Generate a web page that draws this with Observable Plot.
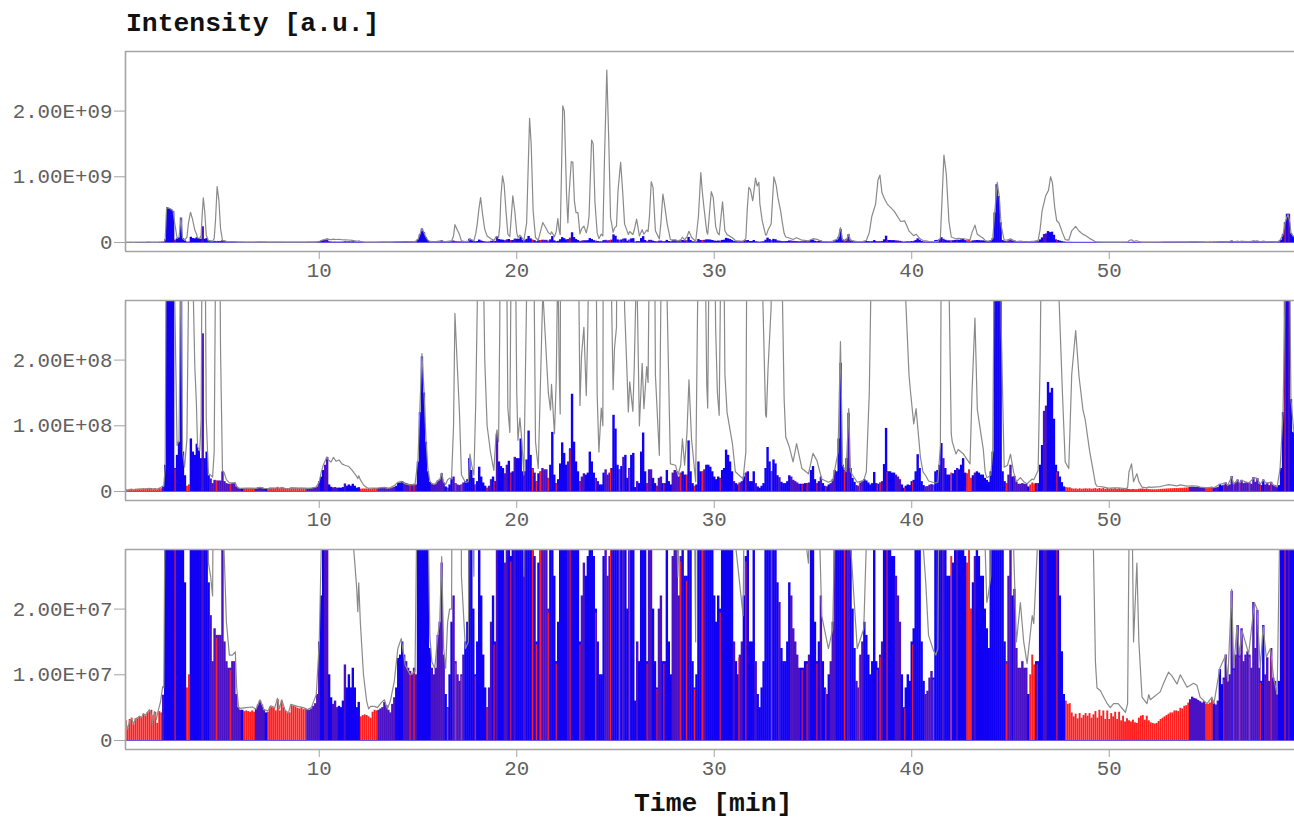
<!DOCTYPE html>
<html><head><meta charset="utf-8">
<script src="https://cdn.jsdelivr.net/npm/d3@7"></script>
<script src="https://cdn.jsdelivr.net/npm/@observablehq/plot@0.6"></script>
<style>
html,body{margin:0;padding:0;background:#fff;overflow:hidden}
#root{position:relative;width:1294px;height:819px}
.lab{position:absolute;font-family:"Liberation Mono",monospace;font-weight:700;font-size:26.4px;line-height:20px;color:#111;white-space:pre}
.panel{position:absolute;left:0}
.panel svg{display:block}
</style></head><body>
<div id="root">
<div class="lab" style="left:126px;top:14px">Intensity [a.u.]</div>
<div class="lab" style="left:634px;top:794px">Time [min]</div>
</div>
<script>
// Intensities are in millions of counts. Row n holds scans n.0, n.1 ... n.9 minutes (row 0 begins at 0.2).
const barRows = [
[3.0,1.8,3.2,3.4,2.4,3.3,3.4,3.6],
[3.5,4.0,3.7,4.2,4.4,4.6,3.8,4.3,2.6,4.4],
[4.2,6.9,40,530,515,500,470,35,55,75],
[370,60,24,8,10,80,60,55,72,62],
[50,240,50,60,24,19,12,17,16,16],
[16,30,15,12,11,11,12,12,7,5],
[4.6,4.6,4.4,4.5,4.4,4.3,4.5,4.3,4.7,5.4],
[6.0,5.4,4.6,4.2,4.3,5.1,5.0,4.9,4.5,6.2],
[4.5,6.0,5.0,4.4,4.1,4.2,5.3,5.2,5.1,4.9],
[4.8,5.0,4.7,4.8,4.7,4.6,4.8,5.2,5.6,7.0],
[15,22,32,40,52,10,6.5,5.5,6,5],
[5.2,5.0,6,11.5,8,10,8,11,8,5],
[5.8,3.6,3.8,3.9,3.8,3.6,3.4,4.3,4.6,4.5],
[4.6,4.8,5.0,5.8,5.3,4.6,4.2,5.5,6.5,8],
[12.5,13,15,13,12,11,10.5,10,11,10],
[45,120,205,150,75,30,14,11,10,11],
[16,18,27,13,7,5,10,18,22,12],
[10,9,10,13,15,18,50,32,20,10],
[15,37,22,13,8,5,8,18,22,15],
[87,45,38,35,27,40,46,28,30,52],
[50,50,80,30,30,48,92,55,35,28],
[15,27,30,35,33,33,20,40,90,25],
[12,18,42,74,58,40,45,65,148,75],
[45,30,15,22,27,25,28,60,45,28],
[20,15,10,10,28,33,25,28,35,116],
[95,40,33,38,52,55,20,35,55,58],
[6,15,12,60,89,30,12,33,33,20],
[12,8,20,22,12,12,32,15,10,28],
[32,30,22,28,30,25,25,77,30,12],
[8,10,45,30,30,33,40,40,37,30],
[22,18,22,20,32,35,63,55,45,30],
[15,12,10,13,15,22,28,30,15,15],
[30,12,7,5,8,12,35,67,45,30],
[48,42,24,21,14,12,12,15,24,22],
[17,15,13,11,11,11,12,12,13,32],
[38,18,12,15,22,12,8,7,10,12],
[18,32,30,80,195,40,32,50,119,35],
[20,14,9,8,13,15,18,16,13,10],
[12,29,12,11,13,15,41,96,30,30],
[28,28,25,22,18,10,5,8,10,9],
[15,17,30,56,35,15,9,7,7.5,9.5],
[10.5,9.5,30,32,40,73,50,35,25,25],
[28,27,32,35,33,40,50,28,27,33],
[20,24,28,30,28,25,25,20,17,14],
[30,60,450,880,700,300,30,15,12,25],
[40,22,23,14,11,11,12,11,11,7],
[10,13,11.5,12,12,40,70,122,130,166],
[150,157,110,40,30,22,13.5,7,6,5.5],
[5.6,4.2,3.6,4.0,3.3,4.1,3.4,3.8,4.1,3.7],
[4.1,3.4,3.9,4.4,3.4,4.6,3.7,4.5,3.2,4.5],
[3.2,4.1,3.6,4.3,3.2,4.3,3.0,3.7,2.8,3.3],
[3.0,2.8,3.1,2.7,2.6,3.4,3.7,3.8,3.1,3.7],
[3.0,2.7,2.6,2.5,2.6,2.9,3.2,3.4,3.6,3.8],
[4.0,4.2,4.2,4.5,4.5,4.4,4.9,4.8,5.2,5.3],
[5.7,6.2,6.6,6.4,6.3,6.1,5.9,5.7,5.9,5.5],
[5.5,5.7,6.2,5.6,5.4,6.0,10.8,8.5,9.5,13],
[9,10,22.7,11,13,17.5,13,17,12,13],
[13.5,13,11,21,14,19.8,11,9,17.5,10],
[12.6,9,14,9.5,9,7,9,35,120,300],
[430,430,140,90]
];
// Spans of minutes in which the scans are red or purple rather than blue.
const redSpans = [[0,2.05],[3.25,3.45],[6.15,6.75],[7.35,9.35],[12.05,12.95],[41.95,42.1],[42.75,43.05],[45.95,46.25],[47.75,54.05],[54.85,55.25]];
const purpleSpans = [[2.05,2.15],[4.05,4.15],[4.45,6.1],[6.75,7.3],[9.4,10.05],[10.25,10.45],[10.65,10.95],[11.25,11.35],[12.95,13.85],[14.25,14.95],[15.65,16.35],[16.75,17.35],[18.45,18.75],[18.95,19.05],[19.35,19.55],[19.85,19.95],[20.35,20.45],[21.15,21.65],[22.55,22.65],[23.25,23.45],[24.45,24.75],[25.35,25.45],[26.05,26.15],[26.65,26.85],[27.15,27.35],[27.85,28.35],[29.35,29.55],[30.95,31.05],[31.25,31.45],[32.05,32.15],[33.25,33.35],[33.85,34.35],[34.75,34.85],[35.35,35.45],[35.85,36.15],[36.75,36.85],[37.15,37.55],[38.35,38.55],[39.15,39.45],[40.65,41.05],[41.55,41.65],[42.25,42.35],[43.15,43.25],[44.75,45.05],[45.15,45.85],[46.65,46.85],[54.05,54.85],[55.35,55.55],[55.85,56.25],[56.35,57.65],[57.85,58.55],[59.05,59.15]];
// Thin red scans showing among the blue ones.
const redStripes = [2.7,4.8,5.5,14.6,14.8,16.5,16.9,17.2,17.9,18.5,18.85,19.7,20.8,21,21.2,21.6,22,22.7,23.2,24,24.75,25.2,25.7,26.6,27.1,27.45,28.3,28.6,29,29.4,30.3,31.25,31.6,32.9,34.45,34.7,35.2,35.65,36.6,37.35,38.25,38.4,38.75,39.65,40.05,41.1,44.8,46.35,47.35,55.8,56.3,56.6,57.1,57.65,58.2,58.9];
// Total ion trace, time then intensity.
const ticPairs = [
0.2,3.0,0.3,1.7,0.4,3.0,0.5,3.3,0.6,2.5,0.7,3.3,0.8,3.4,0.9,3.7,1.0,3.5,1.1,4.1,1.2,3.8,1.3,4.3,1.4,4.7,1.5,3.9,1.55,2.4,1.65,4.4,1.75,3.2,1.85,4.6,1.97,6,2.07,8.2,2.13,8,2.2,40,2.27,530,2.4,520,2.5,505,2.6,480,2.68,300,2.8,70,2.9,78,3.0,375,3.08,60,3.18,37,3.3,80,3.38,300,3.48,460,3.58,360,3.7,190,3.78,134,3.84,68,3.95,62,4.02,110,4.07,400,4.13,680,4.2,480,4.28,110,4.39,27,4.5,25,4.6,22,4.68,60,4.75,350,4.83,850,4.92,640,5.0,220,5.1,32,5.18,29,5.3,18,5.45,13,5.6,13,5.75,13.5,5.82,8,5.92,5,6.0,4.9,6.3,5.0,6.6,5.1,6.8,4.8,7.0,6.2,7.2,4.7,7.4,4.5,7.55,5.3,7.75,5.0,7.88,6.4,7.98,4.8,8.1,6.2,8.27,4.6,8.44,4.2,8.56,5.5,8.9,5.2,9.2,5.0,9.4,4.7,9.6,5.0,9.85,7,10.0,15,10.1,29,10.2,40,10.38,52,10.5,47,10.6,45,10.72,52,10.85,46,11.0,48,11.15,42,11.3,40,11.5,38,11.67,32,11.8,27,11.9,23,11.95,19.6,12.0,24,12.08,18,12.16,14,12.24,10,12.4,6,12.5,4.8,12.6,5.2,12.8,5.2,12.95,5,13.15,5.8,13.3,6.2,13.45,4.8,13.6,6,13.8,9,13.98,14,14.15,15.5,14.35,11.5,14.6,10,14.85,10.5,15.0,50,15.1,130,15.2,210,15.3,155,15.4,80,15.5,35,15.6,16,15.7,12,15.85,11,16.0,16,16.1,18,16.2,28,16.3,14,16.4,11,16.5,18,16.6,20,16.7,20,16.8,100,16.87,271,16.98,197,17.1,120,17.2,25,17.4,14,17.55,15,17.63,57,17.72,40,17.83,25,17.92,130,18.0,280,18.08,500,18.17,685,18.27,430,18.38,200,18.5,100,18.67,60,18.84,32,18.95,85,19.0,94,19.08,76,19.14,250,19.2,700,19.28,1015,19.36,890,19.45,500,19.55,127,19.65,90,19.8,710,19.9,480,20.0,150,20.06,78,20.16,112,20.25,80,20.36,25,20.5,300,20.65,1890,20.73,1500,20.83,480,20.95,76,21.09,35,21.32,305,21.42,250,21.6,150,21.71,124,21.76,163,21.91,88,22.0,170,22.08,365,22.15,180,22.2,118,22.26,1000,22.33,2080,22.41,2000,22.52,740,22.59,300,22.65,735,22.76,1230,22.84,1220,22.92,630,23.0,455,23.1,455,23.2,131,23.28,207,23.4,250,23.52,146,23.6,253,23.66,400,23.79,1560,23.87,1500,23.96,620,24.07,150,24.16,60,24.28,127,24.36,100,24.44,1240,24.56,2625,24.66,1550,24.75,380,24.88,155,24.95,218,25.05,250,25.13,800,25.26,1220,25.36,790,25.46,280,25.56,200,25.65,121,25.72,167,25.88,122,25.95,190,26.07,355,26.21,100,26.35,195,26.44,126,26.58,190,26.65,166,26.72,400,26.81,925,26.9,840,27.02,178,27.22,55,27.3,300,27.4,735,27.48,585,27.62,280,27.78,42,28.04,40,28.16,25,28.3,40,28.39,80,28.5,40,28.62,90,28.72,170,28.85,80,29.06,15,29.2,400,29.32,1065,29.39,790,29.48,530,29.62,162,29.67,127,29.85,775,29.95,685,30.07,250,30.16,150,30.25,116,30.42,620,30.54,178,30.65,120,30.92,73,31.07,30,31.46,19,31.6,60,31.67,500,31.75,840,31.83,810,31.95,635,32.09,980,32.17,860,32.26,915,32.31,590,32.43,330,32.6,117,32.64,113,32.72,185,32.88,280,33.02,1000,33.14,865,33.22,690,33.36,482,33.45,300,33.54,140,33.62,83,33.8,68,33.99,45,34.17,73,34.44,35,34.77,27,35.0,58,35.2,47,35.44,19,35.78,14,36.0,17,36.27,60,36.39,228,36.5,40,36.68,30,36.81,126,36.9,30,37.24,14,37.57,17,37.7,30,37.85,150,37.98,400,38.17,585,38.29,950,38.39,1025,38.49,760,38.59,685,38.76,585,39.1,482,39.44,320,39.64,330,39.86,178,39.93,154,40.1,103,40.22,126,40.44,52,40.57,30,40.71,24,40.85,16,41.1,13.7,41.22,13,41.32,14,41.45,70,41.63,1330,41.75,1040,41.88,330,42.0,88,42.05,76,42.24,57,42.35,64,42.62,57,42.95,42,43.05,150,43.2,264,43.32,125,43.5,88,43.62,65,43.72,29,43.8,21,43.87,22,44.0,25,44.1,60,44.2,450,44.33,915,44.43,700,44.53,250,44.68,37,44.85,40,45.0,57,45.16,29,45.3,15,45.5,21,45.67,15,45.84,11.7,46.1,19,46.18,17.8,46.4,32,46.5,200,46.6,480,46.78,710,46.92,790,47.03,1000,47.12,915,47.24,530,47.34,330,47.45,300,47.63,150,47.77,45,47.95,35,48.1,178,48.3,245,48.47,175,48.67,124,48.78,110,49.0,63,49.2,29,49.3,12,49.38,8,49.55,7.6,49.65,7,49.9,5.6,50.05,5,50.22,5.6,50.45,5.6,50.82,4.3,50.93,5.6,51.0,30,51.13,42,51.23,15,51.3,20,51.4,27,51.5,15,51.66,6.6,51.91,5.6,52.0,7,52.08,6.2,52.58,7.4,52.75,8.7,53.0,10.4,53.18,9.8,53.43,8.6,53.6,10,53.94,8.1,54.27,8.7,54.44,8.4,54.6,6.6,54.95,5.6,55.2,6.6,55.3,5.6,55.6,11,55.9,13,56.0,9,56.2,23,56.3,11,56.47,17.5,56.6,13,56.72,16.8,57.06,13.2,57.35,21,57.48,20,57.65,11,57.79,17.4,57.95,12.7,58.16,14,58.33,9.4,58.5,7,58.65,35,58.8,120,58.9,300,59.05,435,59.15,300,59.2,140,59.35,90
];
const xTicks = [10,20,30,40,50];
const panelTicks = [
  {values:[0,1000,2000], labels:["0","1.00E+09","2.00E+09"], domain:[-137,2907]},
  {values:[0,100,200],   labels:["0","1.00E+08","2.00E+08"], domain:[-13.7,290.7]},
  {values:[0,10,20],     labels:["0","1.00E+07","2.00E+07"], domain:[-1.37,29.07]}
];
const inSpans = (t, spans) => spans.some(([a,b]) => t >= a && t < b);
const bars = barRows.flatMap((row, m) => row.map((v, j) => {
  const t = m + (m === 0 ? j + 2 : j) / 10;
  return {t, v, kind: inSpans(t, redSpans) ? "red" : inSpans(t, purpleSpans) ? "purple" : "blue"};
}));
const barAt = t => bars[Math.max(0, Math.min(bars.length - 1, Math.round((t - 0.2) * 10)))].v;
const stripes = redStripes.map(t => ({t, v: barAt(t) * 0.97}));
const tic = d3.range(0, ticPairs.length, 2).map(i => ({t: ticPairs[i], v: ticPairs[i + 1]}));
const palette = {blue:"#1000f4", purple:"#4a12c4", red:"#ff1f1f"};
const root = document.getElementById("root");
panelTicks.forEach((p, i) => {
  const fig = Plot.plot({
    width: 1294, height: 251,
    marginLeft: 125, marginRight: 0, marginTop: 11, marginBottom: 40,
    style: {fontFamily: '"Liberation Mono", monospace', fontSize: "20.8px", background: "transparent", color: "#555"},
    x: {domain: [0.19, 59.38]},
    y: {domain: p.domain},
    marks: [
      Plot.ruleX(bars.filter(d => d.kind === "red"), {x: "t", y1: 0, y2: "v", stroke: palette.red, strokeWidth: 1.9, clip: true}),
      Plot.ruleX(bars.filter(d => d.kind !== "red"), {x: "t", y1: 0, y2: "v", stroke: d => palette[d.kind], strokeWidth: 2.4, clip: true}),
      Plot.ruleY([0], {stroke: "#6a54e6", strokeWidth: 1.1}),
      Plot.ruleX(stripes, {x: "t", y1: 0, y2: "v", stroke: "#ff2020", strokeWidth: 1.1, clip: true}),
      Plot.line(tic, {x: "t", y: "v", stroke: "#8a8a8a", strokeWidth: 1.2, clip: true}),
      Plot.ruleY([p.domain[0], p.domain[1]], {stroke: "#a4a4a4", strokeWidth: 1.6}),
      Plot.ruleX([0.19], {stroke: "#a4a4a4", strokeWidth: 1.6}),
      Plot.axisX({ticks: xTicks, tickSize: 8, tickPadding: 3, stroke: "#a4a4a4", fill: "#606060", label: null, tickFormat: d => String(d)}),
      Plot.axisY({ticks: p.values, tickSize: 11, tickPadding: 2, stroke: "#a4a4a4", fill: "#606060", label: null, tickFormat: d => p.labels[p.values.indexOf(d)]})
    ]
  });
  const holder = document.createElement("div");
  holder.className = "panel";
  holder.style.top = (40 + 249 * i) + "px";
  holder.appendChild(fig);
  root.appendChild(holder);
});
</script>
</body></html>
